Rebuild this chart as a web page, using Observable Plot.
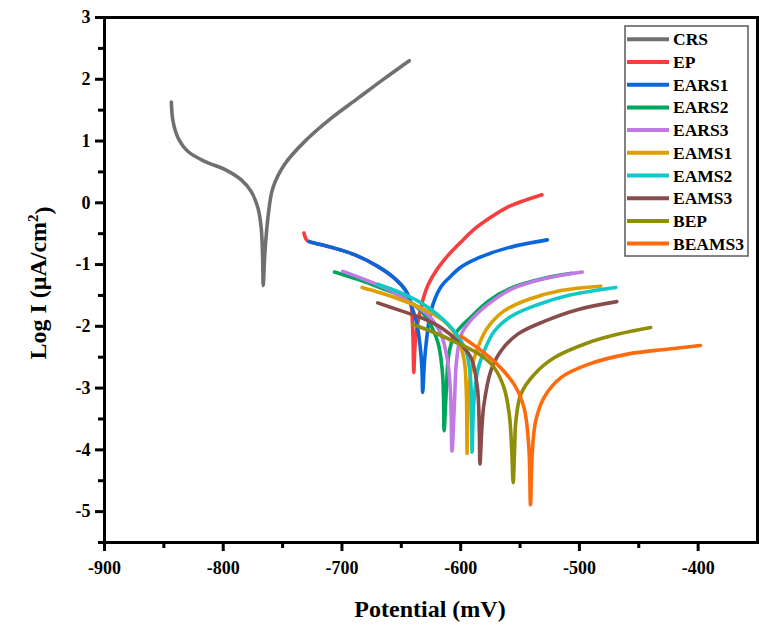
<!DOCTYPE html>
<html>
<head>
<meta charset="utf-8">
<script src="https://cdn.jsdelivr.net/npm/d3@7"></script>
<script src="https://cdn.jsdelivr.net/npm/@observablehq/plot@0.6"></script>
<style>
  html, body { margin: 0; padding: 0; background: #fff; }
  #chart svg { display: block; }
</style>
</head>
<body>
<div id="chart"></div>
<script>
// Tafel polarization curves: [potential (mV), log I (µA/cm²)]
const CRS = [[-843.7,1.63],[-842.3,1.32],[-838,1.05],[-829.6,0.83],[-815.6,0.67],[-798.8,0.54],[-784.8,0.37],[-776.4,0.18],[-770.7,-0.09],[-768,-0.41],[-766.8,-0.89],[-766.3,-1.34],[-765,-0.84],[-762.4,-0.25],[-758.2,0.24],[-748.4,0.62],[-731.5,0.99],[-709,1.37],[-686.7,1.69],[-664.3,2.01],[-643.3,2.30]];
const EP = [[-732,-0.49],[-730.5,-0.58],[-728.8,-0.62],[-709,-0.72],[-689.5,-0.84],[-669.9,-1.03],[-655.9,-1.22],[-646,-1.43],[-641.8,-1.65],[-640.7,-1.92],[-640,-2.3],[-639.5,-2.75],[-638.6,-2.35],[-637.4,-2.1],[-634.8,-1.81],[-631.5,-1.55],[-627.5,-1.33],[-620,-1.08],[-611,-0.86],[-600,-0.64],[-588,-0.42],[-575,-0.24],[-560.5,-0.07],[-546,0.04],[-531.6,0.13]];
const EARS1 = [[-727.4,-0.63],[-709,-0.72],[-689.5,-0.84],[-669.9,-1.03],[-655.9,-1.22],[-646,-1.43],[-641.8,-1.65],[-637,-1.95],[-634,-2.35],[-632.6,-2.7],[-632,-3.07],[-630.6,-2.6],[-629.2,-2.3],[-625,-1.75],[-616.6,-1.36],[-609,-1.2],[-599.7,-1.04],[-586,-0.9],[-560.5,-0.73],[-527,-0.6]];
const EARS2 = [[-706.3,-1.12],[-686.7,-1.24],[-667,-1.38],[-647.5,-1.54],[-630.7,-1.81],[-619.5,-2.24],[-615.5,-2.72],[-614.4,-3.2],[-614,-3.69],[-612,-3.0],[-610,-2.45],[-605.4,-2.15],[-598,-1.97],[-591.3,-1.85],[-577.3,-1.6],[-557.7,-1.38],[-529.7,-1.22],[-506,-1.14]];
const EARS3 = [[-699.3,-1.11],[-681,-1.24],[-661.5,-1.40],[-644.6,-1.59],[-627.9,-1.81],[-616.6,-2.13],[-611,-2.56],[-608.5,-3.1],[-607.3,-4.02],[-605.3,-3.26],[-603.5,-2.56],[-599.5,-2.13],[-591.3,-1.9],[-577.3,-1.65],[-557.7,-1.40],[-529.7,-1.23],[-497.5,-1.12]];
const EAMS1 = [[-683,-1.37],[-667,-1.46],[-647.5,-1.59],[-630.7,-1.73],[-613.8,-1.92],[-602.6,-2.19],[-597,-2.56],[-595.2,-3.1],[-594.6,-4.06],[-593.6,-3.26],[-591.3,-2.72],[-585.7,-2.35],[-577.3,-2.02],[-563.4,-1.75],[-543.7,-1.57],[-515.6,-1.42],[-482,-1.35]];
const EAMS2 = [[-669.9,-1.32],[-650.2,-1.46],[-633.4,-1.62],[-619.5,-1.81],[-605.4,-2.08],[-595.5,-2.40],[-591.8,-2.83],[-590.8,-3.32],[-590.4,-4.04],[-589,-3.26],[-585.7,-2.72],[-580.2,-2.40],[-571.7,-2.08],[-557.7,-1.84],[-535.3,-1.65],[-507.1,-1.49],[-469.3,-1.37]];
const EAMS3 = [[-669.9,-1.62],[-653.1,-1.73],[-633.4,-1.86],[-616.6,-2.02],[-602.6,-2.24],[-591.3,-2.51],[-585.9,-3.0],[-584.3,-3.7],[-583.8,-4.23],[-582,-3.6],[-580.4,-3.26],[-574.6,-2.72],[-566.1,-2.40],[-552.2,-2.13],[-529.7,-1.92],[-501.7,-1.73],[-468.5,-1.60]];
const BEP = [[-640.4,-1.97],[-625,-2.08],[-605,-2.25],[-583,-2.47],[-571.7,-2.67],[-563.4,-3.0],[-559.1,-3.42],[-557,-4.0],[-555.8,-4.53],[-554.6,-4.0],[-553.5,-3.53],[-549.3,-3.10],[-538.1,-2.78],[-521.3,-2.51],[-493.2,-2.27],[-468,-2.13],[-440,-2.02]];
const BEAMS3 = [[-599.7,-2.16],[-585.7,-2.35],[-569,-2.62],[-555,-2.94],[-546.6,-3.32],[-542.6,-3.96],[-541.2,-4.89],[-539.8,-4.07],[-536.8,-3.53],[-529.7,-3.15],[-515.6,-2.83],[-493.2,-2.62],[-459.5,-2.45],[-425.9,-2.37],[-398,-2.31]];

const seriesNames = ["CRS","EP","EARS1","EARS2","EARS3","EAMS1","EAMS2","EAMS3","BEP","BEAMS3"];
const seriesData = [CRS, EP, EARS1, EARS2, EARS3, EAMS1, EAMS2, EAMS3, BEP, BEAMS3];
const seriesColors = ["#707070","#f73d3d","#0867da","#00a65c","#c07ae4","#dda000","#10c8c8","#894c4c","#8e8e08","#ff6a0c"];

const xMajor = [-900,-800,-700,-600,-500,-400];
const xMinor = [-850,-750,-650,-550,-450];
const yMajor = [-5,-4,-3,-2,-1,0,1,2,3];
const yMinor = [-5.5,-4.5,-3.5,-2.5,-1.5,-0.5,0.5,1.5,2.5];

const rows = seriesData.flatMap((pts, i) =>
  pts.map(([E, logI]) => ({name: seriesNames[i], E, logI})));

const W = 767, H = 630;
const font = "'Liberation Serif', 'Times New Roman', serif";

const chart = Plot.plot({
  width: W, height: H,
  marginLeft: 104, marginRight: 10, marginTop: 17, marginBottom: 88,
  x: {domain: [-900, -350]},
  y: {domain: [-5.5, 3]},
  color: {domain: seriesNames, range: seriesColors},
  style: {fontFamily: font, fontWeight: "bold", fontSize: "18px", color: "black", background: "white"},
  marks: [
    Plot.line(rows, {x: "E", y: "logI", z: "name", stroke: "name", strokeWidth: 3.6,
      curve: "catmull-rom", strokeLinecap: "round", strokeLinejoin: "round"}),
    Plot.axisX({ticks: xMajor, tickSize: 9, tickPadding: 10, strokeWidth: 3,
      tickFormat: d => String(d), label: null, fontSize: 18}),
    Plot.axisX({ticks: xMinor, tickSize: 6, strokeWidth: 3, text: null, label: null}),
    Plot.axisY({ticks: yMajor, tickSize: 9, tickPadding: 5, strokeWidth: 3,
      tickFormat: d => String(d), label: null, fontSize: 18}),
    Plot.axisY({ticks: yMinor, tickSize: 6, strokeWidth: 3, text: null, label: null}),
    Plot.frame({stroke: "black", strokeWidth: 3})
  ]
});

const svg = d3.select(chart);

// serif bold for every label
svg.selectAll("text").style("font-family", font).style("font-weight", "bold");

// axis titles
svg.append("text")
  .attr("x", 430).attr("y", 617)
  .attr("text-anchor", "middle")
  .style("font", `bold 24px ${font}`)
  .text("Potential (mV)");

const yt = svg.append("text")
  .attr("transform", "translate(46,283) rotate(-90)")
  .attr("text-anchor", "middle")
  .style("font", `bold 24px ${font}`);
yt.append("tspan").text("Log I (μA/cm");
yt.append("tspan").attr("dy", "-0.55em").style("font-size", "15px").text("2");
yt.append("tspan").attr("dy", "0.55em").text(")");

// legend box
const lg = svg.append("g").attr("text-anchor", "start");
lg.append("rect")
  .attr("x", 625).attr("y", 26).attr("width", 123).attr("height", 230)
  .attr("fill", "white").attr("stroke", "#5a5a5a").attr("stroke-width", 1.5);
seriesNames.forEach((name, i) => {
  const y = 39.3 + i * 22.7;
  lg.append("line")
    .attr("x1", 627).attr("x2", 669).attr("y1", y).attr("y2", y)
    .attr("stroke", seriesColors[i]).attr("stroke-width", 4);
  lg.append("text")
    .attr("x", 673).attr("y", y + 6)
    .attr("text-anchor", "start")
    .style("font", `bold 17.5px ${font}`)
    .text(name);
});

document.getElementById("chart").appendChild(chart);
</script>
</body>
</html>
